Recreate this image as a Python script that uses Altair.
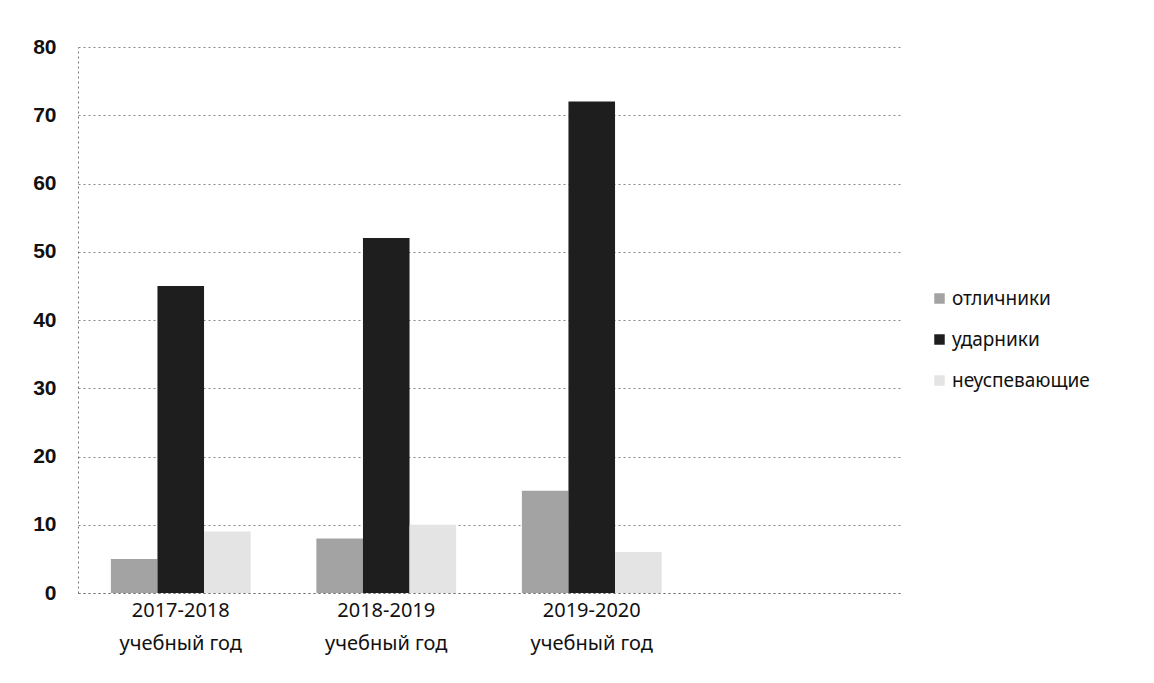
import altair as alt
import pandas as pd

years = ["2017-2018\nучебный год", "2018-2019\nучебный год", "2019-2020\nучебный год"]
series = ["отличники", "ударники", "неуспевающие"]
otlichniki = [5, 8, 15]
udarniki = [45, 52, 72]
neuspev = [9, 10, 6]

rows = []
for i, y in enumerate(years):
    rows.append({"year": y, "series": series[0], "value": otlichniki[i]})
    rows.append({"year": y, "series": series[1], "value": udarniki[i]})
    rows.append({"year": y, "series": series[2], "value": neuspev[i]})
df = pd.DataFrame(rows)

domain_x = years + [" "]

chart = alt.Chart(df).mark_bar().encode(
    x=alt.X("year:N", sort=domain_x,
            scale=alt.Scale(domain=domain_x, paddingInner=0.32, paddingOuter=0.16),
            axis=alt.Axis(title=None, labelAngle=0, ticks=False, grid=False,
                          labelExpr="split(datum.label, '\\n')",
                          labelFontSize=20, labelFont="Noto Sans", labelColor="#111",
                          labelPadding=7, labelLineHeight=33, domainColor="#777",
                          domainDash=[2, 3], domainWidth=1)),
    xOffset=alt.XOffset("series:N", sort=series, scale=alt.Scale(domain=series)),
    y=alt.Y("value:Q", scale=alt.Scale(domain=[0, 80]),
            axis=alt.Axis(title=None, values=[0, 10, 20, 30, 40, 50, 60, 70, 80], ticks=False,
                          labelFontSize=21, labelFont="Liberation Sans", labelFontWeight="bold",
                          labelColor="#111", labelPadding=22, minExtent=65,
                          gridDash=[2, 3], gridColor="#888", gridWidth=1,
                          domainColor="#777", domainDash=[2, 3])),
    color=alt.Color("series:N", sort=series,
                    scale=alt.Scale(domain=series, range=["#a3a3a3", "#1e1e1e", "#e4e4e4"]),
                    legend=alt.Legend(title=None, orient="none", legendX=852, legendY=242,
                                      symbolType="square", symbolSize=110, symbolStrokeWidth=0,
                                      labelFontSize=19, labelFont="Noto Sans", labelColor="#111",
                                      rowPadding=21, labelOffset=3)),
).properties(
    width=822, height=546,
    padding={"left": 5, "top": 28, "right": 5, "bottom": 5},
).configure(background="white").configure_view(stroke=None)

chart.save("out.html", embed_options={"renderer": "svg", "actions": False})
